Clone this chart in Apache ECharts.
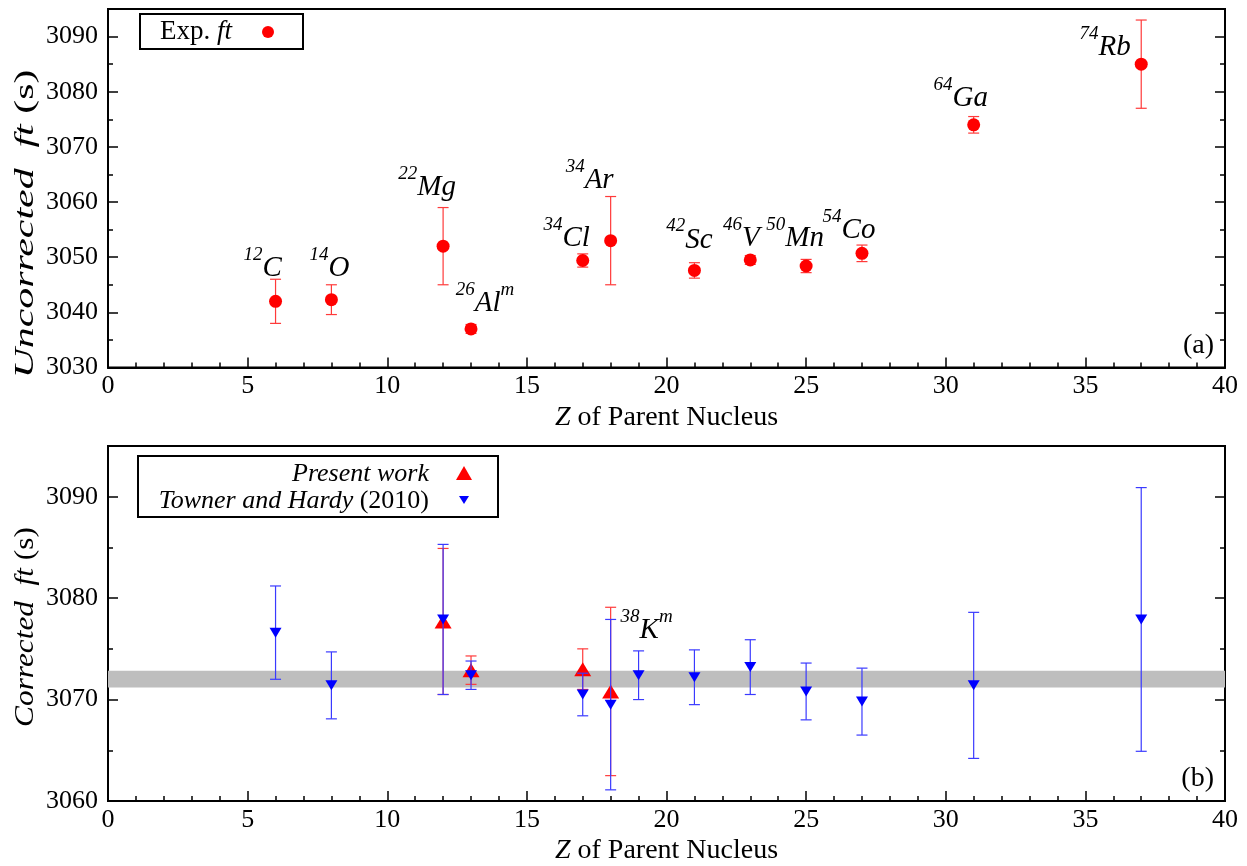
<!DOCTYPE html>
<html><head><meta charset="utf-8">
<script src="https://cdn.jsdelivr.net/npm/echarts@6/dist/echarts.min.js"></script>
<style>html,body{margin:0;padding:0;background:#fff}#c{width:1247px;height:866px}</style>
</head><body><div id="c"></div>
<script>
// ---------- data ----------
const zTop      = [6, 8, 12, 13, 17, 18, 21, 23, 25, 27, 31, 37];
const massTop   = ['12','14','22','26','34','34','42','46','50','54','64','74'];
const elemTop   = ['C','O','Mg','Al','Cl','Ar','Sc','V','Mn','Co','Ga','Rb'];
const isoTop    = ['','','','m','','','','','','','',''];
const ftUncorr  = [3042.0, 3042.3, 3052.0, 3037.0, 3049.4, 3053.0, 3047.6, 3049.5, 3048.4, 3050.7, 3074.0, 3085.0];
const ftUncErr  = [4.0, 2.7, 7.0, 0.8, 1.2, 8.0, 1.4, 0.8, 1.2, 1.5, 1.5, 8.0];

const zPresent  = [12, 13, 17, 18];
const ftPresent = [3077.7, 3072.9, 3073.0, 3070.8];
const errPresent= [7.2, 1.4, 2.0, 8.3];

const zTH       = [6, 8, 12, 13, 17, 18, 19, 21, 23, 25, 27, 31, 37];
const ftTH      = [3076.6, 3071.4, 3077.9, 3072.4, 3070.5, 3069.5, 3072.4, 3072.2, 3073.2, 3070.8, 3069.8, 3071.4, 3077.9];
const errTH     = [4.6, 3.3, 7.4, 1.4, 2.1, 8.4, 2.4, 2.7, 2.7, 2.8, 3.3, 7.2, 13.0];

const avgBand   = [3071.2, 3072.85];
const xTicks    = [0, 5, 10, 15, 20, 25, 30, 35, 40];
const yTopTicks = [3030, 3040, 3050, 3060, 3070, 3080, 3090];
const yBotTicks = [3060, 3070, 3080, 3090];

// ---------- style (label nudges in px, not data) ----------
const labelNudge = [[-13,-3],[-2,-2],[-16,-29],[14,4],[-16,7],[-21,-31],[-5,-1],[-9,8],[-11,2],[-13,7],[-13,3],[-36,13]];
const kmLabel = {mass:'38', elem:'K', iso:'m', nudge:[36,-31]};

const FONT = '"Liberation Serif","DejaVu Serif",serif';
const RED = '#ff0000', REDBAR = '#ff3a3a', BLUE = '#0000ff', BLUEBAR = '#3a3aff';

const rich = {
  s: {fontFamily: FONT, fontStyle: 'italic', fontSize: 19, color: '#000', verticalAlign: 'top', lineHeight: 16},
  e: {fontFamily: FONT, fontStyle: 'italic', fontSize: 29, color: '#000', lineHeight: 46}
};
function nucl(m, e, i) { return '{s|' + m + '}{e|' + e + '}' + (i ? '{s|' + i + '}' : ''); }

function errRender(color) {
  return function (params, api) {
    const x = api.value(0), y = api.value(1), e = api.value(2);
    const t = api.coord([x, y + e]), b = api.coord([x, y - e]);
    const cw = 5.5;
    const st = {stroke: color, lineWidth: 1.2, fill: null};
    return {type: 'group', children: [
      {type: 'line', shape: {x1: t[0], y1: t[1], x2: b[0], y2: b[1]}, style: st},
      {type: 'line', shape: {x1: t[0]-cw, y1: t[1], x2: t[0]+cw, y2: t[1]}, style: st},
      {type: 'line', shape: {x1: b[0]-cw, y1: b[1], x2: b[0]+cw, y2: b[1]}, style: st}
    ]};
  };
}

function xAx(gi) {
  return {
    type: 'value', gridIndex: gi, min: 0, max: 40, interval: 5,
    name: '{i|Z} of Parent Nucleus', nameLocation: 'middle', nameGap: 36,
    nameTextStyle: {fontFamily: FONT, fontSize: 28, color: '#000',
      rich: {i: {fontFamily: FONT, fontStyle: 'italic', fontSize: 28, color: '#000'}}},
    axisLine: {show: true, lineStyle: {color: '#000', width: 2}},
    axisTick: {show: true, inside: true, length: 10, lineStyle: {color: '#000', width: 1.5}},
    minorTick: {show: true, splitNumber: 5, length: 5, lineStyle: {color: '#000', width: 1.5}},
    axisLabel: {fontFamily: FONT, fontSize: 26, color: '#000', margin: 6,
      formatter: v => xTicks.includes(v) ? String(v) : ''},
    splitLine: {show: false}
  };
}
function yAx(gi, min, max, ticks, right) {
  return {
    type: 'value', gridIndex: gi, min: min, max: max, interval: 10, position: right ? 'right' : 'left',
    axisLine: {show: true, onZero: false, lineStyle: {color: '#000', width: 2}},
    axisTick: {show: true, inside: true, length: 10, lineStyle: {color: '#000', width: 1.5}},
    minorTick: {show: true, splitNumber: 2, length: 5, lineStyle: {color: '#000', width: 1.5}},
    axisLabel: {show: !right, fontFamily: FONT, fontSize: 26, color: '#000', margin: 10,
      formatter: v => ticks.includes(v) ? String(v) : ''},
    splitLine: {show: false}
  };
}

const topScatter = zTop.map((z, i) => ({
  value: [z, ftUncorr[i]],
  label: {show: true, position: 'top', distance: 0, offset: labelNudge[i],
    formatter: nucl(massTop[i], elemTop[i], isoTop[i]), rich: rich}
}));

const presentScatter = zPresent.map((z, i) => {
  const d = {value: [z, ftPresent[i]]};
  if (z === 18) d.label = {show: true, position: 'top', distance: 0, offset: kmLabel.nudge,
    formatter: nucl(kmLabel.mass, kmLabel.elem, kmLabel.iso), rich: rich};
  return d;
});

const italic = {fontFamily: FONT, fontStyle: 'italic', fill: '#000'};

const option = {
  animation: false,
  backgroundColor: '#fff',
  grid: [
    {left: 108, top: 9, width: 1117, height: 358.5, show: true, borderColor: '#000', borderWidth: 2, backgroundColor: 'transparent'},
    {left: 108, top: 446, width: 1117, height: 358.5, show: true, borderColor: '#000', borderWidth: 2, backgroundColor: 'transparent'}
  ],
  xAxis: [xAx(0), xAx(1)],
  yAxis: [
    yAx(0, 3030, 3095, yTopTicks, false), yAx(0, 3030, 3095, yTopTicks, true),
    yAx(1, 3060, 3095, yBotTicks, false), yAx(1, 3060, 3095, yBotTicks, true)
  ],
  series: [
    {type: 'custom', name: 'Exp. ft err', xAxisIndex: 0, yAxisIndex: 0,
      data: zTop.map((z, i) => [z, ftUncorr[i], ftUncErr[i]]),
      renderItem: errRender(REDBAR), encode: {x: 0, y: 1}, z: 2},
    {type: 'scatter', name: 'Exp. ft', xAxisIndex: 0, yAxisIndex: 0, symbol: 'circle', symbolSize: 13,
      itemStyle: {color: RED, opacity: 1}, data: topScatter, z: 3},
    {type: 'line', xAxisIndex: 1, yAxisIndex: 2, data: [], symbol: 'none', silent: true,
      markArea: {silent: true, itemStyle: {color: '#bebebe', opacity: 1},
        data: [[{yAxis: avgBand[0]}, {yAxis: avgBand[1]}]]}, z: 1},
    {type: 'custom', name: 'Present err', xAxisIndex: 1, yAxisIndex: 2,
      data: zPresent.map((z, i) => [z, ftPresent[i], errPresent[i]]),
      renderItem: errRender(REDBAR), encode: {x: 0, y: 1}, z: 2},
    {type: 'scatter', name: 'Present work', xAxisIndex: 1, yAxisIndex: 2, symbol: 'triangle', symbolSize: [17, 14],
      itemStyle: {color: RED, opacity: 1}, data: presentScatter, z: 3},
    {type: 'custom', name: 'TH err', xAxisIndex: 1, yAxisIndex: 2,
      data: zTH.map((z, i) => [z, ftTH[i], errTH[i]]),
      renderItem: errRender(BLUEBAR), encode: {x: 0, y: 1}, z: 4},
    {type: 'scatter', name: 'Towner and Hardy (2010)', xAxisIndex: 1, yAxisIndex: 2, symbol: 'triangle', symbolRotate: 180,
      symbolSize: [12, 10], itemStyle: {color: BLUE, opacity: 1}, data: zTH.map((z, i) => [z, ftTH[i]]), z: 5}
  ],
  graphic: [
    // y-axis titles
    {type: 'text', x: 26, y: 224, rotation: Math.PI / 2, scaleX: 1.55,
      style: {text: '{i|Uncorrected}  {i|ft} (s)', fontFamily: FONT, fontSize: 27, fill: '#000', align: 'center', verticalAlign: 'middle',
        rich: {i: Object.assign({fontSize: 27}, italic)}}},
    {type: 'text', x: 26, y: 627, rotation: Math.PI / 2, scaleX: 1.16,
      style: {text: '{i|Corrected}  {i|ft} (s)', fontFamily: FONT, fontSize: 27, fill: '#000', align: 'center', verticalAlign: 'middle',
        rich: {i: Object.assign({fontSize: 27}, italic)}}},
    // panel tags
    {type: 'text', x: 1214, y: 346, style: {text: '(a)', fontFamily: FONT, fontSize: 28, fill: '#000', align: 'right', verticalAlign: 'middle'}},
    {type: 'text', x: 1214, y: 779, style: {text: '(b)', fontFamily: FONT, fontSize: 28, fill: '#000', align: 'right', verticalAlign: 'middle'}},
    // legend (a)
    {type: 'rect', shape: {x: 140, y: 14, width: 163, height: 35}, style: {fill: '#fff', stroke: '#000', lineWidth: 2}, z: 10},
    {type: 'text', x: 160, y: 32, z: 11,
      style: {text: 'Exp. {i|ft}', fontFamily: FONT, fontSize: 27, fill: '#000', align: 'left', verticalAlign: 'middle',
        rich: {i: Object.assign({fontSize: 27}, italic)}}},
    {type: 'circle', shape: {cx: 268, cy: 32, r: 6}, style: {fill: RED}, z: 11},
    // legend (b)
    {type: 'rect', shape: {x: 138, y: 456, width: 360, height: 61}, style: {fill: '#fff', stroke: '#000', lineWidth: 2}, z: 10},
    {type: 'text', x: 429, y: 474, z: 11,
      style: {text: 'Present work', fontFamily: FONT, fontStyle: 'italic', fontSize: 26, fill: '#000', align: 'right', verticalAlign: 'middle'}},
    {type: 'text', x: 429, y: 501, z: 11,
      style: {text: '{i|Towner and Hardy} (2010)', fontFamily: FONT, fontSize: 26, fill: '#000', align: 'right', verticalAlign: 'middle',
        rich: {i: Object.assign({fontSize: 26}, italic)}}},
    {type: 'polygon', shape: {points: [[464, 466], [456, 480], [472, 480]]}, style: {fill: RED}, z: 11},
    {type: 'polygon', shape: {points: [[459, 496], [469, 496], [464, 504]]}, style: {fill: BLUE}, z: 11}
  ]
};
echarts.init(document.getElementById('c'), null, {renderer: 'canvas'}).setOption(option);
</script></body></html>
